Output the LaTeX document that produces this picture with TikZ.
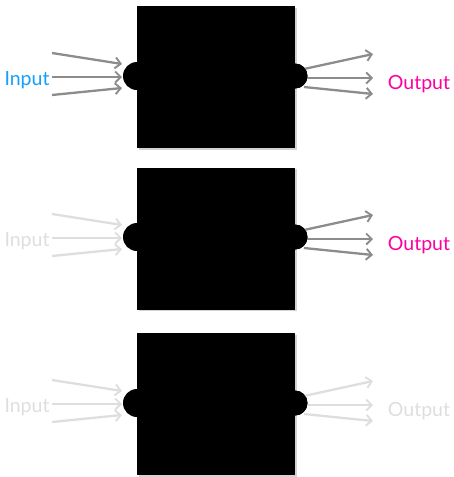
\documentclass[tikz,border=0pt]{standalone}
\usepackage{fontspec}
\setmainfont{Lato}
\usetikzlibrary{arrows.meta,shadows}

\definecolor{inblue}{RGB}{20,160,250}
\definecolor{outpink}{RGB}{255,0,160}
\definecolor{activegray}{RGB}{140,140,140}
\definecolor{idlegray}{RGB}{222,222,222}

\tikzset{
  blackbox/.style={rectangle, fill=black, draw=none, minimum width=158pt,
    minimum height=142pt, inner sep=0pt,
    drop shadow={shadow xshift=1.5pt, shadow yshift=-1.5pt, opacity=0.35}},
  inport/.style={circle, fill=black, minimum size=28pt, inner sep=0pt},
  outport/.style={circle, fill=black, minimum size=25pt, inner sep=0pt},
  flow/.style={line width=2.3pt, -{Straight Barb[length=5.5pt,width=11pt,line width=1.9pt]}},
  label/.style={font=\fontsize{19.5}{22}\selectfont, inner sep=0pt}
}

\begin{document}
\begin{tikzpicture}[x=1pt,y=-1pt]
\useasboundingbox (0,0) rectangle (454,477);

% row definitions: box centre y, port y, input colour, output colour
\foreach \r/\by/\py/\inc/\inl/\outc/\outl in
  {1/77/76/activegray/inblue/activegray/outpink,
   2/238.5/237/idlegray/idlegray/activegray/outpink,
   3/404/403/idlegray/idlegray/idlegray/idlegray}{
  % the box with its two ports
  \node[blackbox] (box\r) at (216,\by) {};
  \node[inport] (in\r) at (137,\py) {};
  \node[outport] (out\r) at (295,\py) {};
  % texts
  \node[label, text=\inl] (inlabel\r) at (27,\py+4) {Input};
  \node[label, text=\outl] (outlabel\r) at (419,\py+8) {Output};
  % incoming arrows
  \coordinate (ia\r) at (52,\py-23);
  \coordinate (ib\r) at (52,\py+1);
  \coordinate (ic\r) at (52,\py+19);
  \coordinate (ta\r) at (122,\py-12);
  \coordinate (tb\r) at (122,\py+1);
  \coordinate (tc\r) at (122,\py+12);
  \draw[flow, draw=\inc] (ia\r) -- (ta\r);
  \draw[flow, draw=\inc] (ib\r) -- (tb\r);
  \draw[flow, draw=\inc] (ic\r) -- (tc\r);
  % outgoing arrows
  \coordinate (oa\r) at (304,\py-7);
  \coordinate (ob\r) at (306,\py+2);
  \coordinate (oc\r) at (304,\py+11);
  \coordinate (ea\r) at (373,\py-22);
  \coordinate (eb\r) at (373,\py+2);
  \coordinate (ec\r) at (373,\py+18);
  \draw[flow, draw=\outc] (oa\r) -- (ea\r);
  \draw[flow, draw=\outc] (ob\r) -- (eb\r);
  \draw[flow, draw=\outc] (oc\r) -- (ec\r);
  % ports drawn over the arrow roots
  \node[outport] at (out\r) {};
}
\end{tikzpicture}
\end{document}
